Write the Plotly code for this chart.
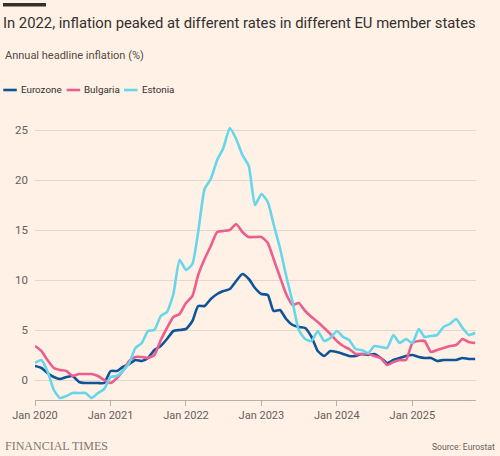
import pandas as pd
import plotly.graph_objects as go

# ---------------- data (annual headline HICP inflation, %) ----------------
start_month = "2020-01-01"
n_months = 71  # Jan 2020 .. Nov 2025

eurozone = [
    1.4, 1.2, 0.7, 0.3, 0.1, 0.3, 0.4, -0.2, -0.3, -0.3, -0.3, -0.3,
    0.9, 0.9, 1.3, 1.6, 2.0, 1.9, 2.2, 3.0, 3.4, 4.1, 4.9, 5.0,
    5.1, 5.9, 7.4, 7.4, 8.1, 8.6, 8.9, 9.1, 9.9, 10.6, 10.1, 9.2,
    8.6, 8.5, 6.9, 7.0, 6.1, 5.5, 5.3, 5.2, 4.3, 2.9, 2.4, 2.9,
    2.8, 2.6, 2.4, 2.4, 2.6, 2.5, 2.6, 2.2, 1.7, 2.0, 2.2, 2.4,
    2.5, 2.3, 2.2, 2.2, 1.9, 2.0, 2.0, 2.0, 2.2, 2.1, 2.1,
]
bulgaria = [
    3.4, 2.9, 2.0, 1.2, 1.0, 0.9, 0.4, 0.6, 0.6, 0.6, 0.4, 0.0,
    -0.3, 0.2, 0.9, 1.9, 2.3, 2.3, 2.2, 2.5, 4.0, 5.2, 6.3, 6.6,
    7.7, 8.4, 10.5, 12.1, 13.4, 14.8, 14.9, 15.0, 15.6, 14.8, 14.3, 14.3,
    14.3, 13.7, 12.1, 10.3, 8.6, 7.5, 7.7, 6.9, 6.3, 5.8, 5.2, 4.6,
    3.9, 3.4, 3.1, 2.6, 2.6, 2.6, 2.4, 2.2, 1.5, 1.8, 2.0, 2.0,
    3.7, 3.9, 3.9, 2.8, 3.0, 3.2, 3.4, 3.5, 4.1, 3.8, 3.7,
]
estonia = [
    1.7, 2.0, 0.9, -1.0, -1.8, -1.6, -1.3, -1.3, -1.3, -1.8, -1.3, -0.9,
    0.3, 0.4, 0.9, 1.7, 3.2, 3.7, 4.9, 5.0, 6.4, 6.8, 8.6, 12.0,
    11.0, 11.6, 14.8, 19.1, 20.1, 22.0, 23.2, 25.2, 24.1, 22.5, 21.4, 17.5,
    18.6, 17.8, 15.6, 13.2, 10.4, 7.8, 5.0, 4.1, 3.9, 4.9, 3.9, 4.2,
    4.9, 4.3, 4.0, 3.1, 3.0, 2.7, 3.4, 3.3, 3.2, 4.5, 3.7, 4.1,
    3.7, 5.1, 4.3, 4.4, 4.5, 5.3, 5.6, 6.1, 5.2, 4.5, 4.7,
]
series_names = ["Eurozone", "Bulgaria", "Estonia"]
series_values = [eurozone, bulgaria, estonia]
y_tick_values = [0, 5, 10, 15, 20, 25]
x_tick_years = [2020, 2021, 2022, 2023, 2024, 2025]

months = pd.date_range(start_month, periods=n_months, freq="MS")

# ---------------- styling ----------------
W, H = 500, 456
ML, MR, MT, MB = 35, 24, 120, 56
BG = "#fff1e5"
COLORS = ["#0f5499", "#eb5e8d", "#66d6eb"]
FONT = "Roboto"
TEXT_DARK = "#33302e"
TEXT_MID = "#66605c"

plot_w = W - ML - MR
plot_h = H - MT - MB


def px_x(x):
    return (x - ML) / plot_w


def px_y(y):
    return (H - MB - y) / plot_h


fig = go.Figure()
for name, vals, col in zip(series_names, series_values, COLORS):
    fig.add_trace(go.Scatter(
        x=months, y=vals, name=name, mode="lines",
        line=dict(color=col, width=2.6, shape="spline", smoothing=0.5),
        hoverinfo="skip",
    ))

fig.update_layout(
    width=W, height=H,
    margin=dict(l=ML, r=MR, t=MT, b=MB),
    paper_bgcolor=BG, plot_bgcolor=BG,
    showlegend=False,
    font=dict(family=FONT, color=TEXT_MID, size=11),
    title=dict(
        text="In 2022, inflation peaked at different rates in different EU member states",
        x=3 / W, xanchor="left", xref="container",
        y=1 - 23 / H, yanchor="middle", yref="container",
        font=dict(family=FONT, size=14.8, color=TEXT_DARK),
    ),
)

fig.update_xaxes(
    type="date",
    range=["2020-01-01", "2025-11-05"],
    tickvals=[f"{y}-01-01" for y in x_tick_years],
    ticktext=[f"Jan {y}" for y in x_tick_years],
    ticks="outside", ticklen=5, tickwidth=1, tickcolor="#b8afa6",
    showline=True, linecolor="#b8afa6", linewidth=1,
    showgrid=False, zeroline=False,
    tickfont=dict(size=11, color=TEXT_MID),
)
fig.update_yaxes(
    range=[-2, 26],
    tickvals=y_tick_values,
    showgrid=True, gridcolor="#e4d8cc", gridwidth=1,
    zeroline=False, ticks="", ticklabelstandoff=6,
    tickfont=dict(size=11.5, color=TEXT_MID),
)

# top black bar
fig.add_shape(type="rect", xref="paper", yref="paper",
              x0=px_x(3), x1=px_x(46), y0=px_y(6.5), y1=px_y(3),
              fillcolor=TEXT_DARK, line_width=0)

annotations = []
annotations.append(dict(
    text="Annual headline inflation (%)", xref="paper", yref="paper",
    x=px_x(3), y=px_y(56), xanchor="left", yanchor="middle", showarrow=False,
    font=dict(family=FONT, size=11, color="#4f4a46"),
))

# manual legend
legend_x = [3.3, 66.7, 124]
for name, col, lx in zip(series_names, COLORS, legend_x):
    fig.add_shape(type="line", xref="paper", yref="paper",
                  x0=px_x(lx), x1=px_x(lx + 13.5), y0=px_y(90), y1=px_y(90),
                  line=dict(color=col, width=2.6))
    annotations.append(dict(
        text=name, xref="paper", yref="paper",
        x=px_x(lx + 15.5), y=px_y(90), xanchor="left", yanchor="middle",
        showarrow=False, font=dict(family=FONT, size=9.8, color=TEXT_DARK),
    ))

annotations.append(dict(
    text="FINANCIAL TIMES", xref="paper", yref="paper",
    x=px_x(3), y=px_y(446), xanchor="left", yanchor="middle", showarrow=False,
    font=dict(family="Liberation Serif", size=12, color="#7d7772"),
))
annotations.append(dict(
    text="Source: Eurostat", xref="paper", yref="paper",
    x=px_x(497), y=px_y(447), xanchor="right", yanchor="middle", showarrow=False,
    font=dict(family=FONT, size=8.6, color=TEXT_MID),
))
fig.update_layout(annotations=annotations)

fig.write_html("out.html")
